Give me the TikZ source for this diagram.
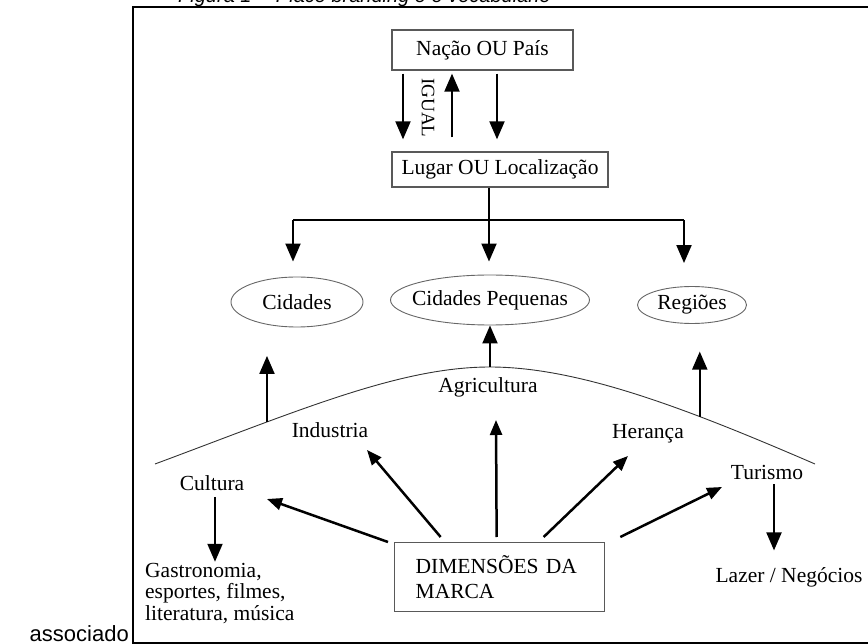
\documentclass[tikz,border=0pt]{standalone}
\usepackage{fontspec}
\setmainfont{Liberation Serif}
\newfontfamily\capfont{Liberation Sans}
\usetikzlibrary{positioning, calc, arrows.meta, shapes.geometric}
\tikzset{block/.style={draw=black!65, line width=1.3pt, inner sep=0pt, align=center},
line/.style={-{Triangle[width=15pt,length=18pt]}, line width=2pt},
dline/.style={-{Triangle[width=12pt,length=15pt]}, line width=2.5pt},
oval/.style={ellipse, draw=black!60, line width=0.9pt, inner sep=0pt},
lbl/.style={inner sep=0pt}
}

\begin{document}
\begin{tikzpicture}[x=1pt, y=-1pt, font=\fontsize{21.5}{22}\selectfont]
\path[use as bounding box, clip] (0,0) rectangle (868,644);
% page text around the figure
\node[lbl, anchor=base west, font=\capfont\itshape\fontsize{20}{22}\selectfont] (cap) at (178,3) {Figura 1 -- Place branding e o vocabulário};
\node[lbl, anchor=base east, font=\capfont\fontsize{22}{24}\selectfont] (assoc) at (129,641) {associado};
\draw[line width=2pt] (880,643) -| (133,7) -- (880,7);

% top boxes
\node[block, minimum width=181pt, minimum height=40pt] (nac) at (482.5,50) {Nação OU País};
\node[block, minimum width=216pt, minimum height=35pt] (lug) at (500,169.5) {Lugar OU Localização};
\coordinate (xa) at (403,0);
\coordinate (xb) at (452,0);
\coordinate (xc) at (497,0);
\draw[line, shorten <=3pt, shorten >=12pt] (nac.south -| xa) -- (lug.north -| xa);
\draw[line, shorten <=14pt, shorten >=3pt] (lug.north -| xb) -- (nac.south -| xb);
\draw[line, shorten <=3pt, shorten >=12pt] (nac.south -| xc) -- (lug.north -| xc);
\node[lbl, rotate=-90, font=\fontsize{19}{20}\selectfont] (igual) at (428,108) {IGUAL};

% places
\node[oval, minimum width=132pt, minimum height=50pt] (cid) at (297,302) {\makebox[0pt]{Cidades}};
\node[oval, minimum width=199pt, minimum height=50pt] (cp) at (490,300) {\makebox[0pt]{Cidades Pequenas}};
\node[oval, minimum width=109pt, minimum height=37pt] (reg) at (692,305) {\makebox[0pt]{Regiões}};
\coordinate (bl) at (293,220);
\coordinate (bm) at (489,220);
\coordinate (br) at (684,220);
\draw[line width=2.5pt] (bl) -- (br);
\draw[line, shorten >=13pt] (lug.south -| bm) -- (bm |- cp.north);
\draw[line, shorten >=15pt] (bl) -- (bl |- cid.north);
\draw[line, shorten >=23pt] (br) -- (br |- reg.north);

% the arc
\draw[line width=0.9pt, black!80] (155,464) .. controls (300,410) and (400,367) .. (490,367) coordinate[pos=0.28] (c1) coordinate (c2)
  .. controls (580,367) and (690,410) .. (815,464) coordinate[pos=0.68] (c3);
\draw[line] (c1) -- ++(0,-66);
\draw[line] (c2) -- (cp.south);
\draw[line] (c3) -- ++(0,-65);

% dimensions
\node[lbl] (cult) at (212,483) {Cultura};
\node[lbl] (ind) at (330,430) {Industria};
\node[lbl] (agr) at (488,387) {Agricultura};
\node[lbl] (her) at (648,434) {Herança};
\node[lbl] (tur) at (767,472) {Turismo};
\node[lbl, anchor=north west, align=left, font=\fontsize{21.5}{21.5}\selectfont] (gas) at (145,563) {Gastronomia,\\esportes, filmes,\\literatura, música};
\node[lbl] (laz) at (789,577) {Lazer / Negócios};
\node[block, anchor=north west, text width=168pt, inner xsep=21pt, inner ysep=0pt, minimum height=69pt, align=left, font=\fontsize{21.5}{25}\selectfont] (dim) at (394,542) {DIMENSÕES DA\\MARCA};

\coordinate (t-cult) at (267,499);
\coordinate (t-ind) at (367,450);
\coordinate (t-agr) at (496,420);
\coordinate (t-her) at (628,456);
\coordinate (t-tur) at (722,487);
\draw[dline] ([xshift=-6pt]dim.north west) -- (t-cult);
\draw[dline] ([xshift=-59pt,yshift=5pt]dim.north) -- (t-ind);
\draw[dline] ([xshift=-3pt,yshift=5pt]dim.north) -- (t-agr);
\draw[dline] ([xshift=44pt,yshift=5pt]dim.north) -- (t-her);
\draw[dline] ([xshift=15pt,yshift=5pt]dim.north east) -- (t-tur);
\draw[line] ([xshift=3pt,yshift=-6pt]cult.south) -- ++(0,65);
\draw[line] ([xshift=7pt,yshift=-5pt]tur.south) -- ++(0,66);
\end{tikzpicture}
\end{document}
